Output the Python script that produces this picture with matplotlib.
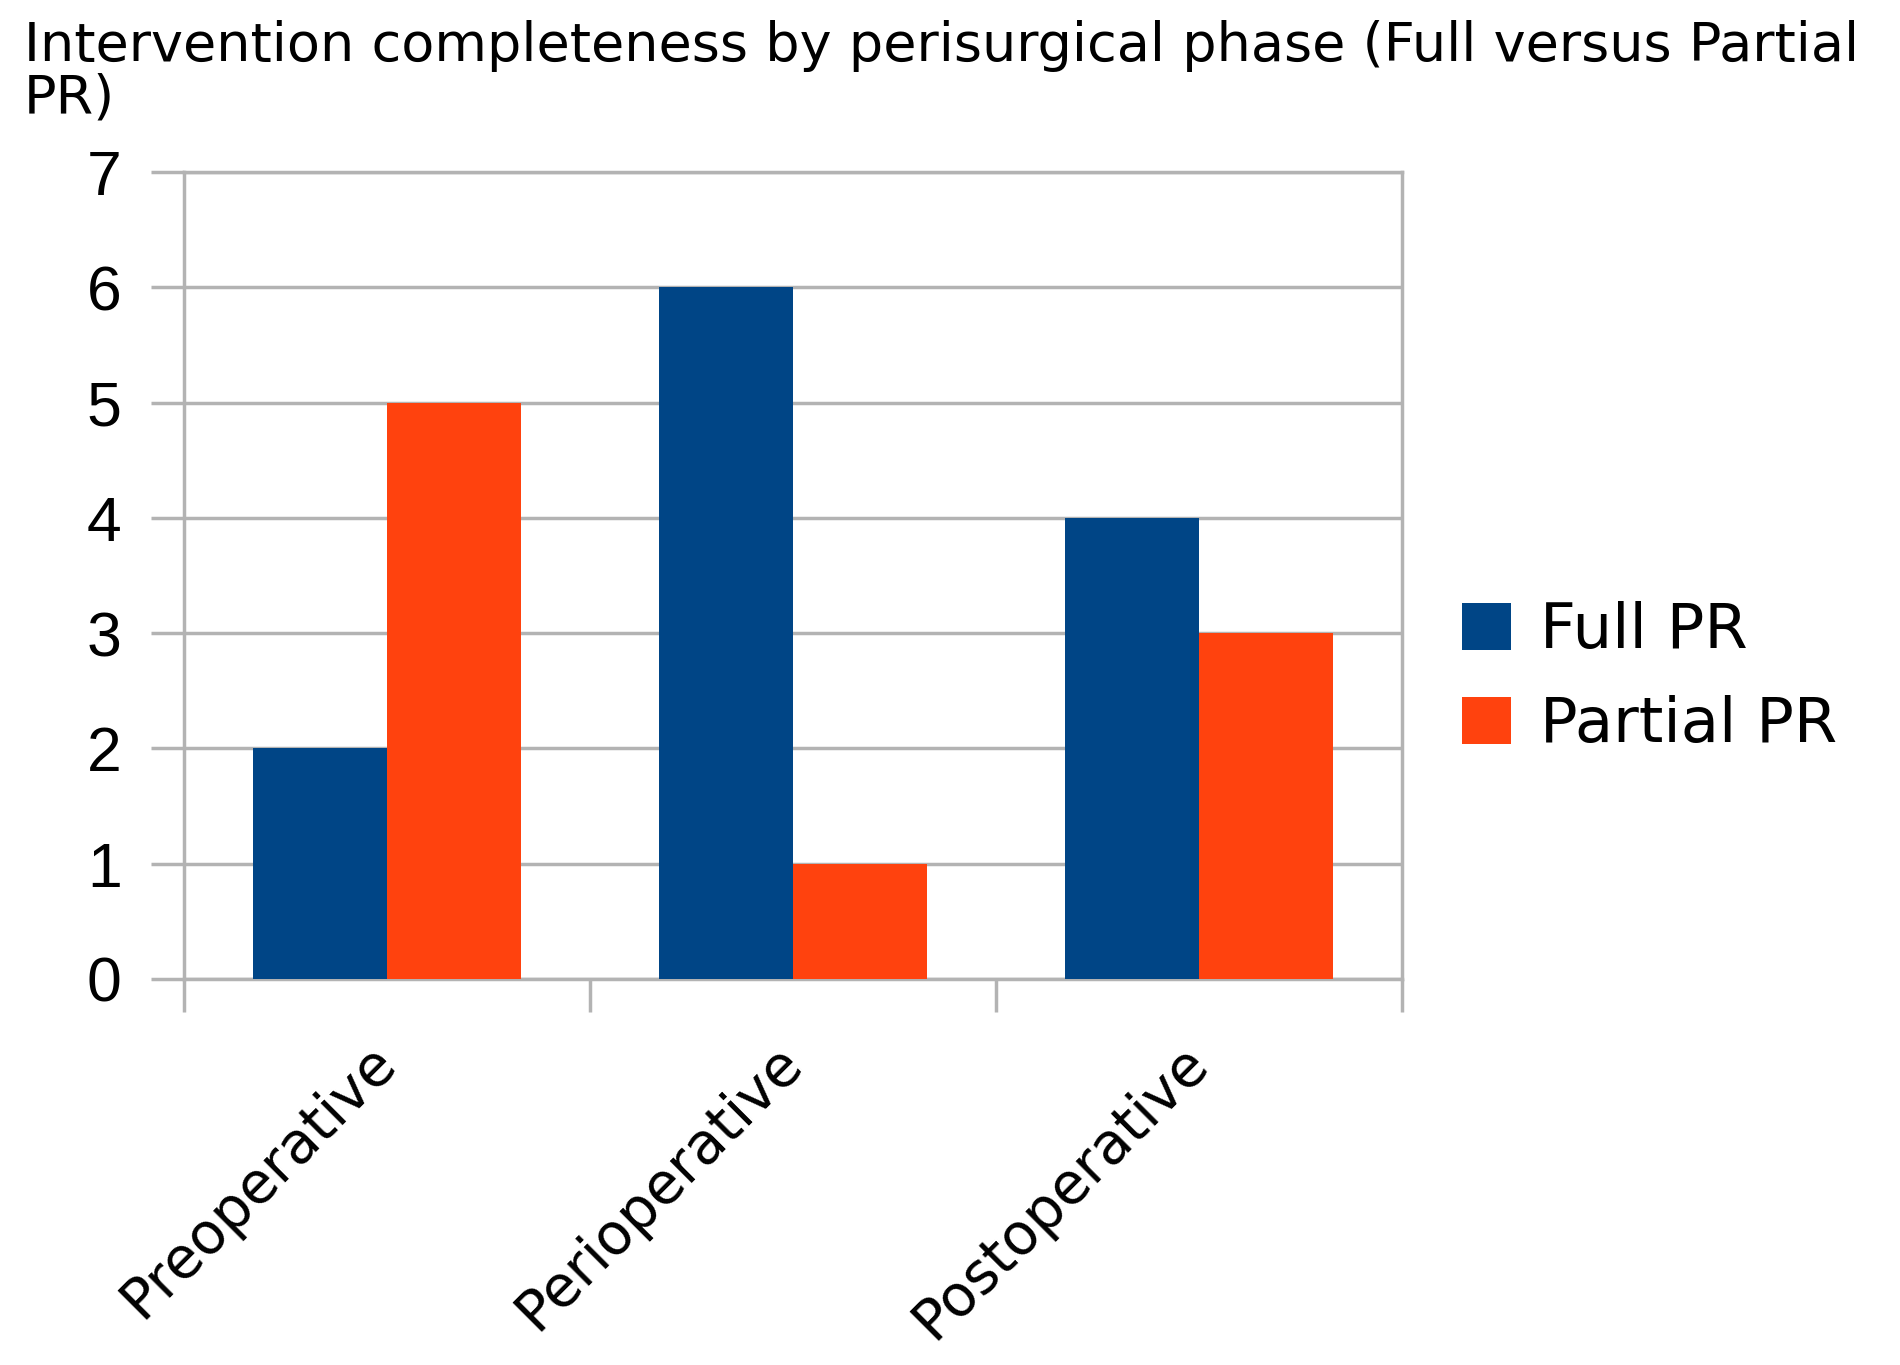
import numpy as np
from matplotlib import pyplot as plt
from matplotlib.ticker import FixedLocator

# data
phases = ['Preoperative', 'Perioperative', 'Postoperative']
full_pr = [2, 6, 4]
partial_pr = [5, 1, 3]
series_names = ['Full PR', 'Partial PR']
y_ticks = [0, 1, 2, 3, 4, 5, 6, 7]

title = 'Intervention completeness by perisurgical phase (Full versus Partial\nPR)'

blue = '#004586'
orange = '#ff420e'
grid_gray = '#b3b3b3'


def make_chart():
    fig = plt.figure(figsize=(19, 13.65), dpi=100)
    ax = fig.add_axes([184 / 1900, 1 - 979 / 1365, (1402 - 184) / 1900, (979 - 172) / 1365])

    x = np.arange(len(phases))
    w = 0.33
    ax.bar(x - w / 2, full_pr, width=w, color=blue, label=series_names[0], zorder=3)
    ax.bar(x + w / 2, partial_pr, width=w, color=orange, label=series_names[1], zorder=3)

    ax.set_xlim(-0.5, len(phases) - 0.5)
    ax.set_ylim(0, 7)
    ax.set_yticks(y_ticks)
    ax.yaxis.grid(True, color=grid_gray, linewidth=2.5, zorder=0)

    for s in ax.spines.values():
        s.set_color(grid_gray)
        s.set_linewidth(2.5)

    # category labels at centres, tick marks between categories
    ax.set_xticks(x)
    ax.set_xticklabels(phases, rotation=45, ha='right', va='center',
                       rotation_mode='anchor', fontsize=41, family='DejaVu Sans')
    ax.xaxis.set_minor_locator(FixedLocator(np.arange(-0.5, len(phases), 1.0)))
    ax.tick_params(axis='x', which='major', length=0, pad=54)
    ax.tick_params(axis='x', which='minor', length=24, width=2.5, color=grid_gray)
    ax.tick_params(axis='y', length=24, width=2.5, color=grid_gray, pad=21)
    for lbl in ax.get_yticklabels():
        lbl.set_fontsize(45)
        lbl.set_family('Liberation Sans')

    fig.text(24 / 1900, 1 - 20 / 1365, title, ha='left', va='top',
             fontsize=39, family='DejaVu Sans', linespacing=1.0)

    fig.legend(loc='center left', bbox_to_anchor=(1462 / 1900, 1 - 678 / 1365),
               frameon=False, fontsize=45, handlelength=0.78, handleheight=0.78,
               handletextpad=0.46, labelspacing=0.55, borderpad=0, borderaxespad=0)

    fig.savefig('out.png', dpi=100)


if __name__ == "__main__":
    make_chart()
